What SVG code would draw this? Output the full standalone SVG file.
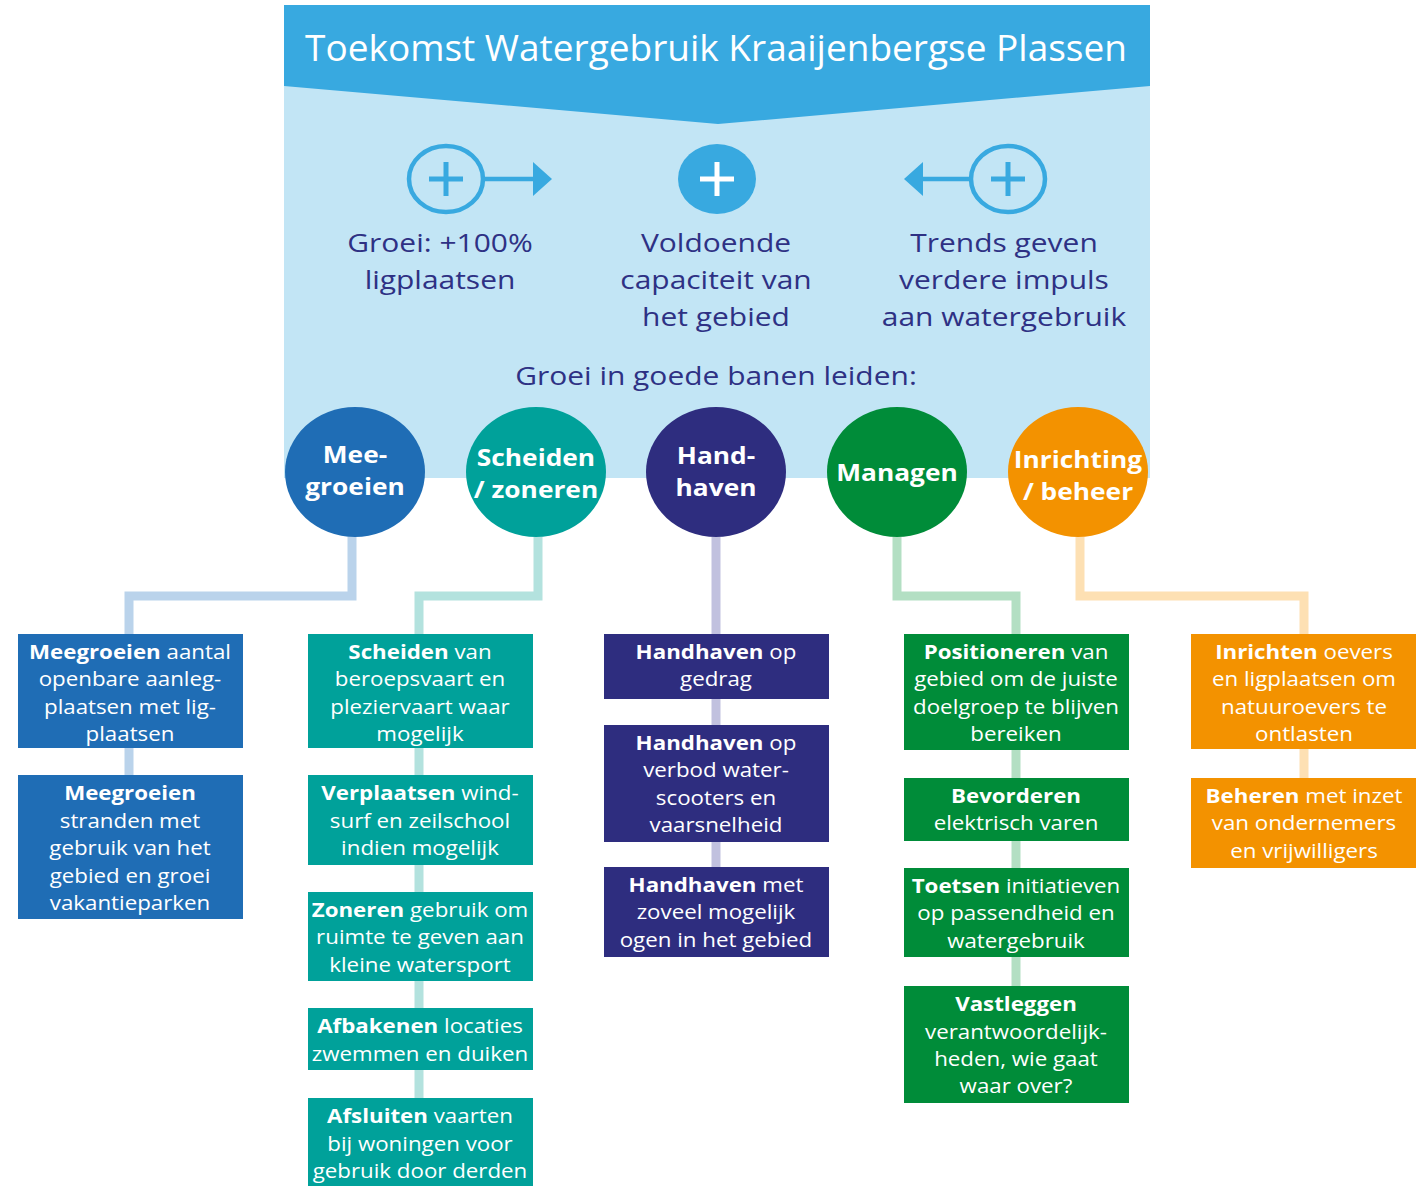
<svg xmlns="http://www.w3.org/2000/svg" width="1423" height="1186" viewBox="0 0 1423 1186">
<style>
text{font-family:"Open Sans","Liberation Sans",sans-serif;text-anchor:middle}
.t{fill:#fff;font-size:20px}
.b{font-weight:700}
.h{fill:#2e3184;font-size:25.6px}
.c{fill:#fff;font-size:23.5px;font-weight:700}
.cn{fill:none;stroke-width:9}
</style>
<rect width="1423" height="1186" fill="#fff"/>
<g id="header">
<rect x="284" y="5" width="866" height="473" fill="#c2e5f5"/>
<polygon points="284,5 1150,5 1150,86 718,124 284,86" fill="#38a9e0"/>
<text x="716" y="61" fill="#fff" style="font-size:37px">Toekomst Watergebruik Kraaijenbergse Plassen</text>
</g>
<g id="icon-groei">
<ellipse cx="446" cy="179" rx="37" ry="33" fill="none" stroke="#38a9e0" stroke-width="4.5"/>
<path d="M446,162v34M429,179h34" stroke="#38a9e0" stroke-width="5"/>
<path d="M483,179h52" stroke="#38a9e0" stroke-width="4.5"/>
<polygon points="533,162 552,179 533,196" fill="#38a9e0"/>
<g transform="matrix(1.17,0,0,1,-74.8,0)">
<text class="h" x="440" y="252">Groei: +100%</text>
<text class="h" x="440" y="289">ligplaatsen</text>
</g>
</g>
<g id="icon-capaciteit">
<ellipse cx="717" cy="179" rx="39" ry="35" fill="#38a9e0"/>
<path d="M717,162v34M700,179h34" stroke="#fff" stroke-width="5"/>
<g transform="matrix(1.17,0,0,1,-121.72,0)">
<text class="h" x="716" y="252">Voldoende</text>
<text class="h" x="716" y="289">capaciteit van</text>
<text class="h" x="716" y="326">het gebied</text>
</g>
</g>
<g id="icon-trends">
<ellipse cx="1008" cy="179" rx="37" ry="33" fill="none" stroke="#38a9e0" stroke-width="4.5"/>
<path d="M1008,162v34M991,179h34" stroke="#38a9e0" stroke-width="5"/>
<path d="M971,179h-50" stroke="#38a9e0" stroke-width="4.5"/>
<polygon points="923,162 904,179 923,196" fill="#38a9e0"/>
<g transform="matrix(1.17,0,0,1,-170.68,0)">
<text class="h" x="1004" y="252">Trends geven</text>
<text class="h" x="1004" y="289">verdere impuls</text>
<text class="h" x="1004" y="326">aan watergebruik</text>
</g>
</g>
<g id="subtitle" transform="matrix(1.17,0,0,1,-121.72,0)">
<text class="h" x="716" y="385">Groei in goede banen leiden:</text>
</g>
<g id="connectors">
<path class="cn" stroke="#bad3eb" d="M352,537V596H129V634M129,748V775"/>
<path class="cn" stroke="#b3e2de" d="M538,537V596H419V634M419,748V1098"/>
<path class="cn" stroke="#c1c1df" d="M716,537V867"/>
<path class="cn" stroke="#b3dfc3" d="M897,537V596H1016V986"/>
<path class="cn" stroke="#fde0b3" d="M1080,537V596H1304V778"/>
</g>
<g id="c-meegroeien">
<ellipse cx="355" cy="472" rx="70" ry="65" fill="#1f6db5"/>
<g transform="matrix(1.12,0,0,1,-42.6,0)">
<text class="c" x="355" y="463">Mee-</text>
<text class="c" x="355" y="495">groeien</text>
</g>
</g>
<g id="c-scheiden">
<ellipse cx="536" cy="472" rx="70" ry="65" fill="#00a19a"/>
<g transform="matrix(1.12,0,0,1,-64.32,0)">
<text class="c" x="536" y="466">Scheiden</text>
<text class="c" x="536" y="498">/ zoneren</text>
</g>
</g>
<g id="c-handhaven">
<ellipse cx="716" cy="472" rx="70" ry="65" fill="#2e2d7f"/>
<g transform="matrix(1.12,0,0,1,-85.92,0)">
<text class="c" x="716" y="464">Hand-</text>
<text class="c" x="716" y="496">haven</text>
</g>
</g>
<g id="c-managen">
<ellipse cx="897" cy="472" rx="70" ry="65" fill="#008c39"/>
<g transform="matrix(1.12,0,0,1,-107.64,0)">
<text class="c" x="897" y="481">Managen</text>
</g>
</g>
<g id="c-inrichting">
<ellipse cx="1078" cy="472" rx="70" ry="65" fill="#f39200"/>
<g transform="matrix(1.12,0,0,1,-129.36,0)">
<text class="c" x="1078" y="468">Inrichting</text>
<text class="c" x="1078" y="500">/ beheer</text>
</g>
</g>
<g id="b1-1"><rect x="18" y="634" width="225" height="114" fill="#1f6db5"/>
<g transform="matrix(1.115,0,0,1,-14.95,0)">
<text class="t" x="130" y="659"><tspan class="b">Meegroeien</tspan> aantal</text>
<text class="t" x="130" y="686">openbare aanleg-</text>
<text class="t" x="130" y="714">plaatsen met lig-</text>
<text class="t" x="130" y="741">plaatsen</text></g></g>
<g id="b1-2"><rect x="18" y="775" width="225" height="144" fill="#1f6db5"/>
<g transform="matrix(1.115,0,0,1,-14.95,0)">
<text class="t b" x="130" y="800">Meegroeien</text>
<text class="t" x="130" y="828">stranden met</text>
<text class="t" x="130" y="855">gebruik van het</text>
<text class="t" x="130" y="883">gebied en groei</text>
<text class="t" x="130" y="910">vakantieparken</text></g></g>
<g id="b2-1"><rect x="308" y="634" width="225" height="114" fill="#00a19a"/>
<g transform="matrix(1.115,0,0,1,-48.3,0)">
<text class="t" x="420" y="659"><tspan class="b">Scheiden</tspan> van</text>
<text class="t" x="420" y="686">beroepsvaart en</text>
<text class="t" x="420" y="714">pleziervaart waar</text>
<text class="t" x="420" y="741">mogelijk</text></g></g>
<g id="b2-2"><rect x="308" y="775" width="225" height="90" fill="#00a19a"/>
<g transform="matrix(1.115,0,0,1,-48.3,0)">
<text class="t" x="420" y="800"><tspan class="b">Verplaatsen</tspan> wind-</text>
<text class="t" x="420" y="828">surf en zeilschool</text>
<text class="t" x="420" y="855">indien mogelijk</text></g></g>
<g id="b2-3"><rect x="308" y="892" width="225" height="89" fill="#00a19a"/>
<g transform="matrix(1.115,0,0,1,-48.3,0)">
<text class="t" x="420" y="917"><tspan class="b">Zoneren</tspan> gebruik om</text>
<text class="t" x="420" y="944">ruimte te geven aan</text>
<text class="t" x="420" y="972">kleine watersport</text></g></g>
<g id="b2-4"><rect x="308" y="1008" width="225" height="62" fill="#00a19a"/>
<g transform="matrix(1.115,0,0,1,-48.3,0)">
<text class="t" x="420" y="1033"><tspan class="b">Afbakenen</tspan> locaties</text>
<text class="t" x="420" y="1061">zwemmen en duiken</text></g></g>
<g id="b2-5"><rect x="308" y="1098" width="225" height="88" fill="#00a19a"/>
<g transform="matrix(1.115,0,0,1,-48.3,0)">
<text class="t" x="420" y="1123"><tspan class="b">Afsluiten</tspan> vaarten</text>
<text class="t" x="420" y="1151">bij woningen voor</text>
<text class="t" x="420" y="1178">gebruik door derden</text></g></g>
<g id="b3-1"><rect x="604" y="634" width="225" height="65" fill="#2e2d7f"/>
<g transform="matrix(1.115,0,0,1,-82.34,0)">
<text class="t" x="716" y="659"><tspan class="b">Handhaven</tspan> op</text>
<text class="t" x="716" y="686">gedrag</text></g></g>
<g id="b3-2"><rect x="604" y="725" width="225" height="117" fill="#2e2d7f"/>
<g transform="matrix(1.115,0,0,1,-82.34,0)">
<text class="t" x="716" y="750"><tspan class="b">Handhaven</tspan> op</text>
<text class="t" x="716" y="777">verbod water-</text>
<text class="t" x="716" y="805">scooters en</text>
<text class="t" x="716" y="832">vaarsnelheid</text></g></g>
<g id="b3-3"><rect x="604" y="867" width="225" height="90" fill="#2e2d7f"/>
<g transform="matrix(1.115,0,0,1,-82.34,0)">
<text class="t" x="716" y="892"><tspan class="b">Handhaven</tspan> met</text>
<text class="t" x="716" y="919">zoveel mogelijk</text>
<text class="t" x="716" y="947">ogen in het gebied</text></g></g>
<g id="b4-1"><rect x="904" y="634" width="225" height="116" fill="#008c39"/>
<g transform="matrix(1.115,0,0,1,-116.84,0)">
<text class="t" x="1016" y="659"><tspan class="b">Positioneren</tspan> van</text>
<text class="t" x="1016" y="686">gebied om de juiste</text>
<text class="t" x="1016" y="714">doelgroep te blijven</text>
<text class="t" x="1016" y="741">bereiken</text></g></g>
<g id="b4-2"><rect x="904" y="778" width="225" height="63" fill="#008c39"/>
<g transform="matrix(1.115,0,0,1,-116.84,0)">
<text class="t b" x="1016" y="803">Bevorderen</text>
<text class="t" x="1016" y="830">elektrisch varen</text></g></g>
<g id="b4-3"><rect x="904" y="868" width="225" height="89" fill="#008c39"/>
<g transform="matrix(1.115,0,0,1,-116.84,0)">
<text class="t" x="1016" y="893"><tspan class="b">Toetsen</tspan> initiatieven</text>
<text class="t" x="1016" y="920">op passendheid en</text>
<text class="t" x="1016" y="948">watergebruik</text></g></g>
<g id="b4-4"><rect x="904" y="986" width="225" height="117" fill="#008c39"/>
<g transform="matrix(1.115,0,0,1,-116.84,0)">
<text class="t b" x="1016" y="1011">Vastleggen</text>
<text class="t" x="1016" y="1039">verantwoordelijk-</text>
<text class="t" x="1016" y="1066">heden, wie gaat</text>
<text class="t" x="1016" y="1093">waar over?</text></g></g>
<g id="b5-1"><rect x="1191" y="634" width="225" height="115" fill="#f39200"/>
<g transform="matrix(1.115,0,0,1,-149.96,0)">
<text class="t" x="1304" y="659"><tspan class="b">Inrichten</tspan> oevers</text>
<text class="t" x="1304" y="686">en ligplaatsen om</text>
<text class="t" x="1304" y="714">natuuroevers te</text>
<text class="t" x="1304" y="741">ontlasten</text></g></g>
<g id="b5-2"><rect x="1191" y="778" width="225" height="90" fill="#f39200"/>
<g transform="matrix(1.115,0,0,1,-149.96,0)">
<text class="t" x="1304" y="803"><tspan class="b">Beheren</tspan> met inzet</text>
<text class="t" x="1304" y="830">van ondernemers</text>
<text class="t" x="1304" y="858">en vrijwilligers</text></g></g>
</svg>
